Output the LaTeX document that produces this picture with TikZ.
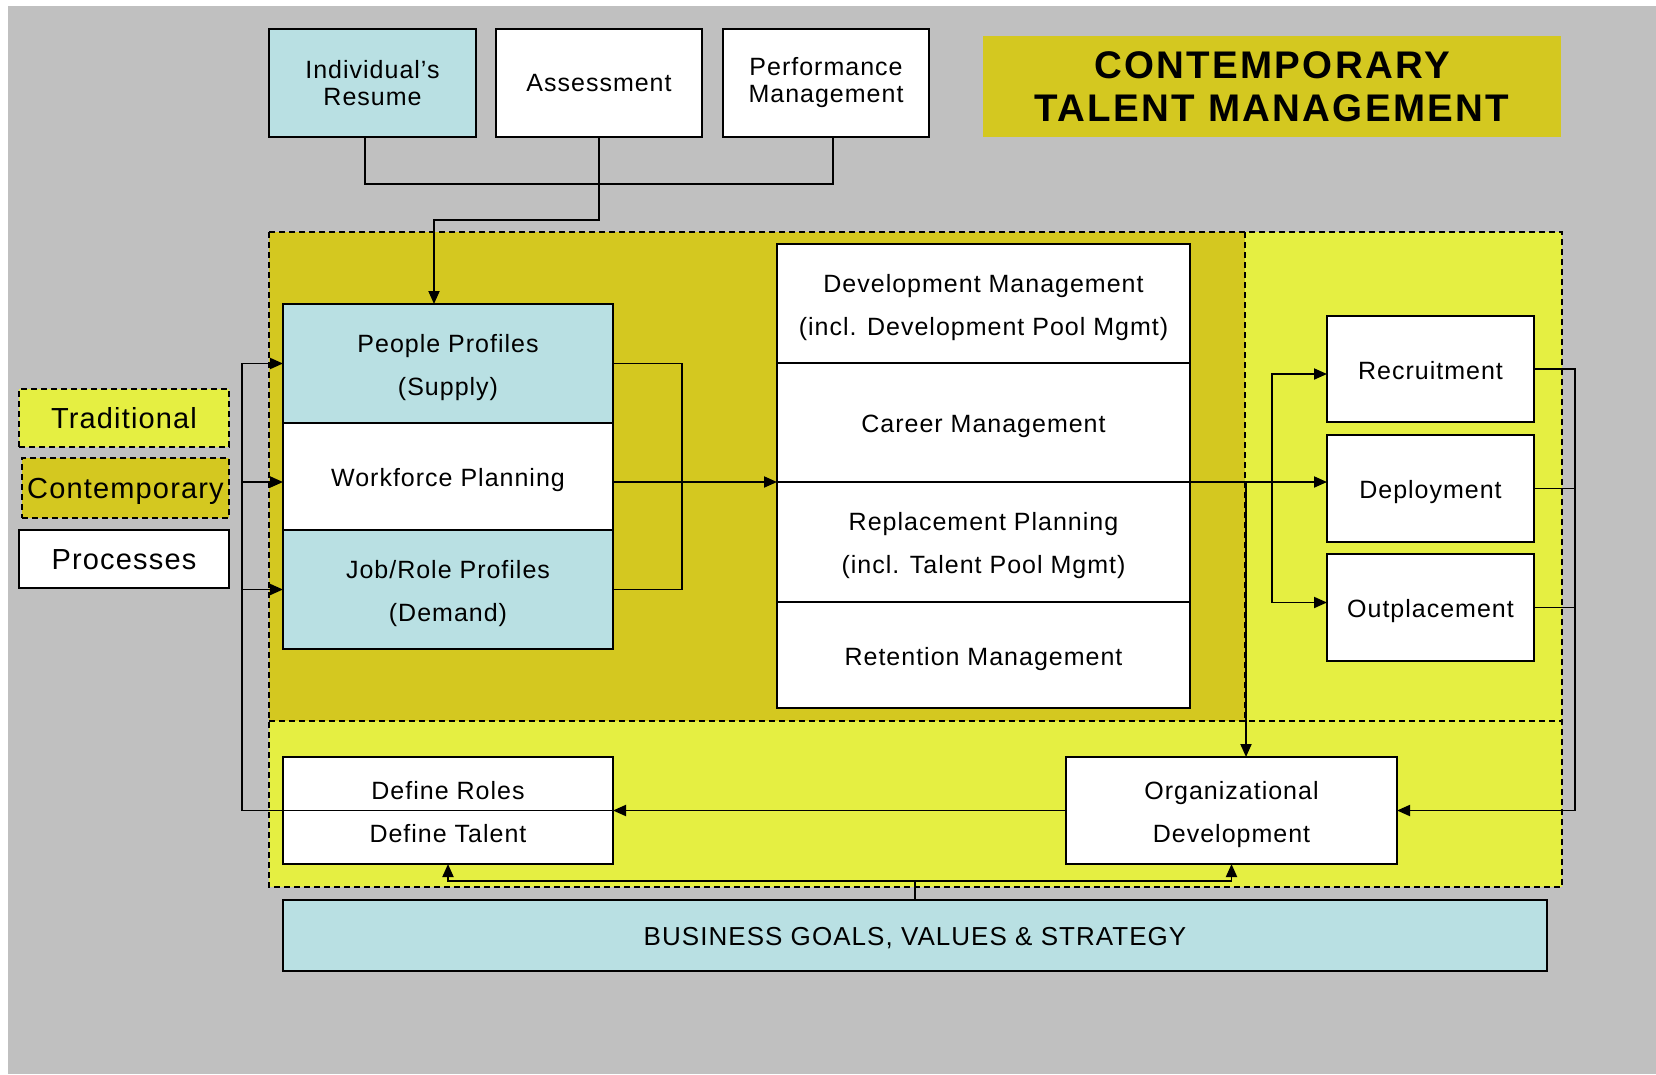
\documentclass[tikz,border=0pt]{standalone}
\usepackage{fontspec}
\setmainfont{Liberation Sans}[LetterSpace=4]
\newfontfamily\titlefont{Liberation Sans}[LetterSpace=6]
\usetikzlibrary{arrows.meta,calc}

\definecolor{canvasgray}{HTML}{C0C0C0}
\definecolor{paleblue}{HTML}{B9E0E3}
\definecolor{olive}{HTML}{D4C820}
\definecolor{lime}{HTML}{E5EF42}

% struts giving every label line the same height and depth
\newcommand\tmTop{\rule{0pt}{26pt}}
\newcommand\tmBot{\rule[-6pt]{0pt}{6pt}}

\tikzset{
  plainbox/.style={draw=black, line width=1.6pt, inner sep=0pt, outer sep=0pt,
    align=center, fill=white},
  procbox/.style={plainbox, font=\fontsize{25}{43}\selectfont},
  onerow/.style={procbox, text height=26pt, text depth=6pt},
  bluebox/.style={procbox, fill=paleblue},
  topbox/.style={plainbox, font=\fontsize{25}{27}\selectfont,
    minimum width=206pt, minimum height=108pt},
  legendbox/.style={plainbox, font=\fontsize{29}{34}\selectfont,
    text height=21pt, text depth=0pt,
    minimum width=210pt, minimum height=58pt},
  zone/.style={draw=black, line width=1.1pt, dash pattern=on 6pt off 4pt},
  wire/.style={draw=black, line width=1.9pt},
  arr/.style={wire, -{Triangle[length=13pt,width=11pt]}},
}

\begin{document}
\begin{tikzpicture}[x=1pt,y=-1pt]
  \useasboundingbox (0,0) rectangle (1656,1074);
  \fill[white] (0,0) rectangle (1656,1074);
  \fill[canvasgray] (8,6) rectangle (1656,1074);

  % traditional / contemporary zones
  \fill[lime] (269,232) rectangle (1562,887);
  \fill[olive] (269,232) rectangle (1245,721);
  \draw[zone] (269,232) rectangle (1562,887);
  \draw[zone] (269,721) -- (1562,721);
  \draw[zone] (1245,232) -- (1245,721);

  % title
  \node[fill=olive, inner sep=0pt, minimum width=578pt, minimum height=101pt,
        align=center, font=\titlefont\bfseries\fontsize{38.5}{43}\selectfont]
        (title) at (1272,86.5) {CONTEMPORARY\\TALENT MANAGEMENT};

  % legend
  \node[legendbox, fill=lime, dash pattern=on 6pt off 4pt, line width=1.1pt]
        (legT) at (124,418) {Traditional};
  \node[legendbox, fill=olive, dash pattern=on 6pt off 4pt, line width=1.1pt,
        minimum width=207pt, minimum height=60pt]
        (legC) at (125.5,488) {Contemporary};
  \node[legendbox] (legP) at (124,559) {Processes};

  % input sources
  \node[topbox, fill=paleblue, minimum width=207pt]
        (rs) at (372.5,83) {Individual’s\\Resume};
  \node[topbox] (as) at (599,83) {Assessment};
  \node[topbox] (pf) at (826,83) {Performance\\Management};

  % supply / demand column
  \node[bluebox, minimum width=330pt, minimum height=119pt]
        (pp) at (448,363.5) {\tmTop People Profiles\\(Supply)\tmBot};
  \node[onerow, minimum width=330pt, minimum height=107pt]
        (wf) at (448,476.5) {Workforce Planning};
  \node[bluebox, minimum width=330pt, minimum height=119pt]
        (jr) at (448,589.5) {\tmTop Job/Role Profiles\\(Demand)\tmBot};

  % talent processes column
  \node[procbox, minimum width=413pt, minimum height=119pt]
        (dm) at (983.5,303.5) {\tmTop Development Management\\(incl. Development Pool Mgmt)\tmBot};
  \node[onerow, minimum width=413pt, minimum height=119pt]
        (cm) at (983.5,422.5) {Career Management};
  \node[procbox, minimum width=413pt, minimum height=120pt]
        (rp) at (983.5,542) {\tmTop Replacement Planning\\(incl. Talent Pool Mgmt)\tmBot};
  \node[onerow, minimum width=413pt, minimum height=106pt]
        (rm) at (983.5,655) {Retention Management};

  % traditional processes
  \node[onerow, minimum width=207pt, minimum height=106pt]
        (rc) at (1430.5,369) {Recruitment};
  \node[onerow, minimum width=207pt, minimum height=107pt]
        (dp) at (1430.5,488.5) {Deployment};
  \node[onerow, minimum width=207pt, minimum height=107pt]
        (op) at (1430.5,607.5) {Outplacement};

  % bottom row
  \node[procbox, minimum width=330pt, minimum height=107pt]
        (dfn) at (448,810.5) {\tmTop Define Roles\\Define Talent\tmBot};
  \draw[line width=1.3pt] (dfn.west) -- (dfn.east);
  \node[procbox, minimum width=331pt, minimum height=107pt]
        (od) at (1231.5,810.5) {\tmTop Organizational\\Development\tmBot};
  \node[onerow, fill=paleblue, font=\fontsize{26}{43}\selectfont,
        minimum width=1264pt, minimum height=71pt]
        (bg) at (915,935.5) {BUSINESS GOALS, VALUES \& STRATEGY};

  % junction points
  \coordinate (top) at (599,184);
  \coordinate (bend) at (434,220);
  \coordinate (mid) at (cm.south west);
  \coordinate (j1) at (1246,482);
  \coordinate (j2) at (1272,482);
  \coordinate (rr) at (1575,810.5);
  \coordinate (ll) at (242,810.5);
  \coordinate (bj) at ($(bg.north)+(0,-19)$);

  % inputs into people profiles
  \draw[wire] ($(rs.south)+(-7.5,0)$) |- (top) -| ($(pf.south)+(7,0)$);
  \draw[arr] (as.south) |- (bend) -- (bend |- pp.north);

  % supply and demand merge into workforce planning
  \draw[wire] (pp.east) -- ++(69,0) |- (jr.east);
  \draw[arr] (wf.east |- mid) -- (mid);
  \draw[arr] (cm.south east) -- (cm.south east -| dp.west);
  \draw[arr] (j1) -- (j1 |- od.north);
  \draw[arr] (j2) |- ($(rc.west)+(0,5)$);
  \draw[arr] (j2) |- ($(op.west)+(0,-5)$);

  % feedback from traditional processes
  \draw[wire] (rc.east) -| (rr);
  \draw[wire] (dp.east) -- (dp.east -| rr);
  \draw[wire] (op.east) -- (op.east -| rr);
  \draw[arr] (rr) -- (od.east);
  \draw[arr] (od.west) -- (dfn.east);

  % loop back to the profiles
  \draw[arr] (dfn.west) -- (ll) |- (pp.west);
  \draw[arr] (ll |- mid) -- (wf.west |- mid);
  \draw[arr] (ll |- jr.west) -- (jr.west);

  % business goals drive both ends
  \draw[wire] (bg.north) -- (bj);
  \draw[arr] (bj) -| (dfn.south);
  \draw[arr] (bj) -| (od.south);
\end{tikzpicture}
\end{document}
